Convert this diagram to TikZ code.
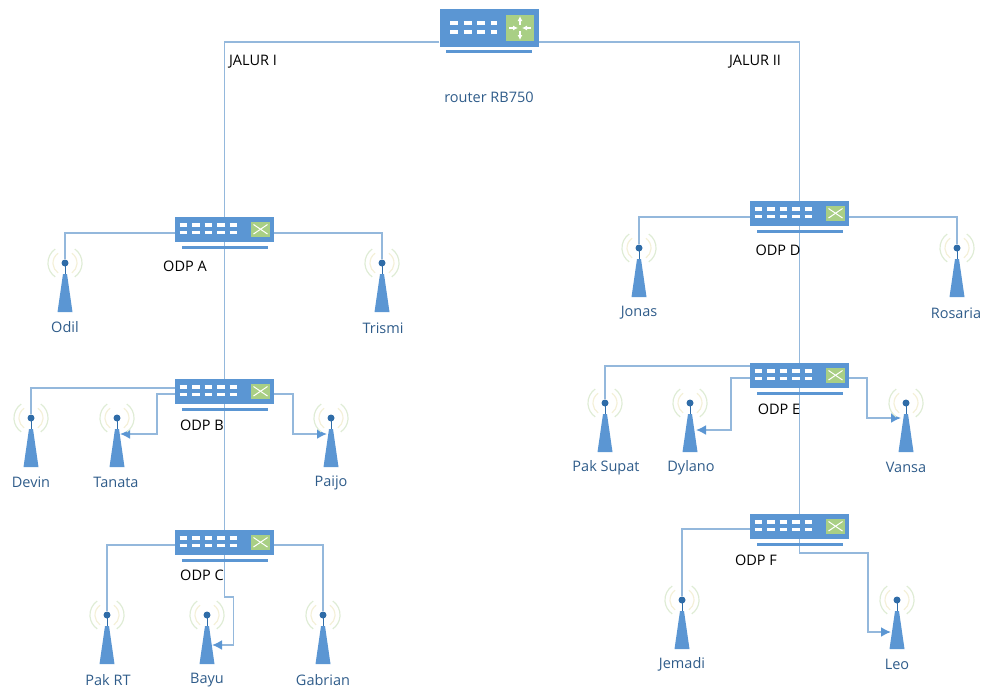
\documentclass[tikz,border=0pt]{standalone}
\usepackage{fontspec}
\setmainfont{Open Sans}
\usetikzlibrary{backgrounds,arrows.meta}

\definecolor{boxblue}{HTML}{5B96D3}
\definecolor{wireblue}{HTML}{94B8DC}
\definecolor{dotblue}{HTML}{2F6CA8}
\definecolor{textblue}{HTML}{2F5C8A}
\definecolor{padgreen}{HTML}{A9CF85}
\definecolor{arcgreen}{HTML}{DFECD5}
\definecolor{arcyellow}{HTML}{F4F0D8}

\tikzset{
  wire/.style={color=wireblue,line width=1.8pt},
  feed/.style={wire,-{Latex[length=10pt,width=10pt,color=boxblue]}},
  switchnode/.style={rectangle,fill=boxblue,minimum width=99pt,minimum height=25pt,inner sep=0pt},
  routernode/.style={rectangle,fill=boxblue,minimum width=99pt,minimum height=38pt,inner sep=0pt},
  towernode/.style={circle,fill=dotblue,minimum size=7pt,inner sep=0pt},
  blacktext/.style={font=\fontsize{14.5}{16}\selectfont,text=black,inner sep=0pt,yshift=-0.5pt},
  bluetext/.style={font=\fontsize{14.5}{16}\selectfont,text=textblue,inner sep=0pt,yshift=-0.5pt},
  switchface/.pic={
    \fill [boxblue] (-43,16) rectangle (43,19);
    \draw [white,line width=3.5pt,dash pattern=on 7.5pt off 5pt] (-45,-4.5)--(15,-4.5);
    \draw [white,line width=3.5pt,dash pattern=on 7.5pt off 5pt] (-45,3)--(15,3);
    \fill [padgreen] (26.5,-7.5) rectangle (45.5,7);
    \draw [white,line width=1pt] (29,-5)--(43,4.5);
    \draw [white,line width=1pt] (29,4.5)--(43,-5);
  },
  routerface/.pic={
    \fill [boxblue] (-43,22) rectangle (43,25);
    \draw [white,line width=4.5pt,dash pattern=on 8pt off 5.5pt] (-39,-5)--(8,-5);
    \draw [white,line width=4.5pt,dash pattern=on 8pt off 5.5pt] (-39,4)--(8,4);
    \fill [padgreen] (17,-13) rectangle (45,13);
    \draw [white,line width=1.2pt,-{Latex[length=5pt,width=5pt]}] (31,-3)--(31,-12);
    \draw [white,line width=1.2pt,-{Latex[length=5pt,width=5pt]}] (31,3)--(31,12);
    \draw [white,line width=1.2pt,-{Latex[length=5pt,width=5pt]}] (20,0)--(29,0);
    \draw [white,line width=1.2pt,-{Latex[length=5pt,width=5pt]}] (42,0)--(33,0);
  },
  towerface/.pic={
    \draw [arcgreen,line width=1.2pt] (-9.8,-14) arc[start angle=125,end angle=235,radius=17pt];
    \draw [arcgreen,line width=1.2pt] (9.8,-14) arc[start angle=55,end angle=-55,radius=17pt];
    \draw [arcyellow,line width=1.2pt] (-6.9,-9.8) arc[start angle=125,end angle=235,radius=12pt];
    \draw [arcyellow,line width=1.2pt] (6.9,-9.8) arc[start angle=55,end angle=-55,radius=12pt];
    \draw [dotblue,line width=1pt] (0,0)--(0,12);
    \fill [boxblue] (-2,11)--(2,11)--(7.5,49)--(-7.5,49)--cycle;
  },
}

\begin{document}
\begin{tikzpicture}[x=1pt,y=-1pt]
\useasboundingbox (0,0) rectangle (981,689);

% router
\node (router) [routernode] at (489,28) {};
\pic at (router) {routerface};
\node (routerlabel) [bluetext] at (489,97) {router RB750};
\node (jalura) [blacktext] at (253,61) {JALUR I};
\node (jalurb) [blacktext] at (755,61) {JALUR II};

% odp boxes
\node (odpa) [switchnode] at (224.5,229.5) {};
\node (odpb) [switchnode] at (224.5,391.5) {};
\node (odpc) [switchnode] at (224.5,542.5) {};
\node (odpd) [switchnode] at (799.5,213.5) {};
\node (odpe) [switchnode] at (799.5,375.5) {};
\node (odpf) [switchnode] at (799.5,526.5) {};
\pic at (odpa) {switchface};
\pic at (odpb) {switchface};
\pic at (odpc) {switchface};
\pic at (odpd) {switchface};
\pic at (odpe) {switchface};
\pic at (odpf) {switchface};
\node (odpalabel) [blacktext] at (185,266) {ODP A};
\node (odpblabel) [blacktext] at (202,425) {ODP B};
\node (odpclabel) [blacktext] at (202,575) {ODP C};
\node (odpdlabel) [blacktext] at (778,250) {ODP D};
\node (odpelabel) [blacktext] at (779,409) {ODP E};
\node (odpflabel) [blacktext] at (756,560) {ODP F};

% towers
\pic at (65,263) {towerface};
\pic at (382,263) {towerface};
\pic at (31,418) {towerface};
\pic at (117,418) {towerface};
\pic at (331,418) {towerface};
\pic at (107,615) {towerface};
\pic at (207,615) {towerface};
\pic at (323,615) {towerface};
\pic at (639,248) {towerface};
\pic at (957,248) {towerface};
\pic at (605,403) {towerface};
\pic at (690,403) {towerface};
\pic at (906,403) {towerface};
\pic at (682,600) {towerface};
\pic at (897,600) {towerface};

\node (odil) [towernode] at (65,263) {};
\node (trismi) [towernode] at (382,263) {};
\node (devin) [towernode] at (31,418) {};
\node (tanata) [towernode] at (117,418) {};
\node (paijo) [towernode] at (331,418) {};
\node (pakrt) [towernode] at (107,615) {};
\node (bayu) [towernode] at (207,615) {};
\node (gabrian) [towernode] at (323,615) {};
\node (jonas) [towernode] at (639,248) {};
\node (rosaria) [towernode] at (957,248) {};
\node (paksupat) [towernode] at (605,403) {};
\node (dylano) [towernode] at (690,403) {};
\node (vansa) [towernode] at (906,403) {};
\node (jemadi) [towernode] at (682,600) {};
\node (leo) [towernode] at (897,600) {};

\node (odillabel) [bluetext] at (65,327) {Odil};
\node (trismilabel) [bluetext] at (383,328) {Trismi};
\node (devinlabel) [bluetext] at (31,482) {Devin};
\node (tanatalabel) [bluetext] at (116,482) {Tanata};
\node (paijolabel) [bluetext] at (331,482) {Paijo};
\node (pakrtlabel) [bluetext] at (108,680) {Pak RT};
\node (bayulabel) [bluetext] at (207,680) {Bayu};
\node (gabrianlabel) [bluetext] at (323,680) {Gabrian};
\node (jonaslabel) [bluetext] at (639,312) {Jonas};
\node (rosarialabel) [bluetext] at (956,313) {Rosaria};
\node (paksupatlabel) [bluetext] at (606,467) {Pak Supat};
\node (dylanolabel) [bluetext] at (691,467) {Dylano};
\node (vansalabel) [bluetext] at (906,467) {Vansa};
\node (jemadilabel) [bluetext] at (682,664) {Jemadi};
\node (leolabel) [bluetext] at (897,664) {Leo};

% arrow ends at the tower bodies
\coordinate (tanatain) at (120,434);
\coordinate (paijoin) at (327,434);
\coordinate (bayuin) at (212,645);
\coordinate (dylanoin) at (696,430);
\coordinate (vansain) at (901,418);
\coordinate (leoin) at (891,632);

\begin{pgfonlayer}{background}
% trunks
\draw [wire] (router.west |- 0,42) -| (odpa.north);
\draw [wire] (router.east |- 0,42) -| (odpd.north);
\draw [wire] (odpa)--(odpb);
\draw [wire] (odpb)--(odpc);
\draw [wire] (odpd)--(odpe);
\draw [wire] (odpe)--(odpf);

% odp a
\draw [wire] (odpa.west |- 0,233) -| (odil);
\draw [wire] (odpa.east |- 0,233) -| (trismi);
% odp b
\draw [wire] (odpb.west |- 0,388) -| (devin);
\draw [feed] (odpb.west |- 0,394) -- ++(-18,0) |- (tanatain);
\draw [feed] (odpb.east |- 0,394) -- ++(19,0) |- (paijoin);
% odp c
\draw [wire] (odpc.west |- 0,545) -| (pakrt);
\draw [wire] (odpc.east |- 0,545) -| (gabrian);
\draw [feed] (odpc.south) -- ++(0,42) -- ++(9,0) |- (bayuin);
% odp d
\draw [wire] (odpd.west |- 0,217) -| (jonas);
\draw [wire] (odpd.east |- 0,217) -| (rosaria);
% odp e
\draw [wire] (odpe.west |- 0,366) -| (paksupat);
\draw [feed] (odpe.west |- 0,378) -- ++(-19,0) |- (dylanoin);
\draw [feed] (odpe.east |- 0,378) -- ++(18,0) |- (vansain);
% odp f
\draw [wire] (odpf.west |- 0,529) -| (jemadi);
\draw [feed] (odpf.south) -- ++(0,14) -- ++(68.5,0) |- (leoin);
\end{pgfonlayer}
\end{tikzpicture}
\end{document}
